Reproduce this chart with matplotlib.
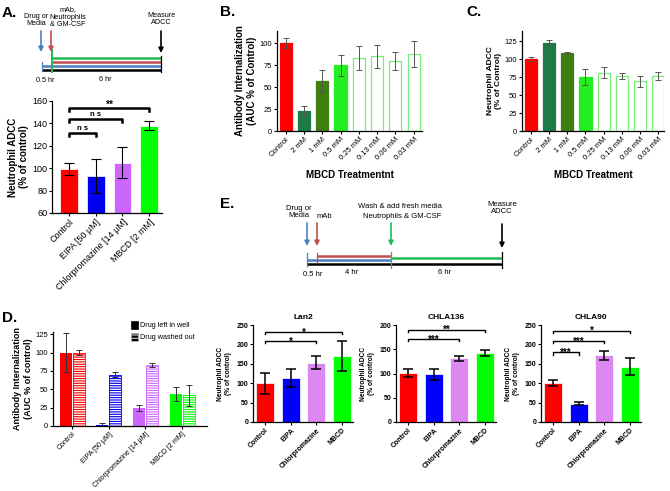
import numpy as np
import matplotlib
matplotlib.use('Agg')
import matplotlib.pyplot as plt
from matplotlib.patches import Patch

plt.rcParams['font.family'] = ['Liberation Sans', 'DejaVu Sans']
plt.rcParams['hatch.linewidth'] = 0.9
plt.rcParams['axes.linewidth'] = 0.9

RED = '#ff0000'
BLUE = '#0000ee'
PURPLE = '#cc66ff'
LAVENDER = '#dd88f2'
LIME = '#00ff00'

# ---- data ----
# A: neutrophil ADCC after drug pre-treatment
a_labels = ['Control', 'EIPA [50 µM]', 'Chlorpromazine [14 µM]', 'MBCD [2 mM]']
a_mean = [99, 93, 105, 138]
a_err = [5.5, 15.5, 13.5, 4]
a_sig = [(0, 1, 131.5, 'n s'), (0, 2, 144, 'n s'), (0, 3, 153.5, '**')]

# B: antibody internalization vs MBCD dose
mbcd_labels = ['Control', '2 mM', '1 mM', '0.5 mM', '0.25 mM', '0.13 mM', '0.06 mM', '0.03 mM']
b_mean = [100, 23, 57, 75, 83, 85, 80, 88]
b_err = [5.5, 5.5, 13, 12, 14, 13.5, 10.5, 15]

# C: neutrophil ADCC vs MBCD dose
c_mean = [100, 123, 108, 75, 81, 76, 69, 77]
c_err = [3, 4, 1.2, 11, 8, 4, 8, 5.5]

mbcd_face = [RED, '#1e7b45', '#3f7f10', '#22ee22', 'white', 'white', 'white', 'white']
mbcd_edge = [RED, '#1e7b45', '#3f7f10', '#22ee22', '#77ee77', '#77ee77', '#77ee77', '#77ee77']

# D: internalization, drug left in well vs washed out
d_left = [100, 2, 24, 44]
d_left_err = [26, 2, 4, 9.5]
d_washed = [100, 70, 83, 42]
d_washed_err = [3, 3.5, 3, 14.5]

# E: ADCC after wash-out, three cell lines
e_labels = ['Control', 'EIPA', 'Chlorpromazine', 'MBCD']
lan2_mean = [100, 113, 153, 170]
lan2_err = [27, 24, 16, 39]
lan2_sig = [(0, 2, 209, '*'), (0, 3, 232, '*')]
chla136_mean = [101, 98, 131, 143]
chla136_err = [8.5, 12, 6, 6]
chla136_sig = [(0, 2, 171, '***'), (0, 3, 190, '**')]
chla90_mean = [101, 47, 172, 142]
chla90_err = [7, 4, 11, 22]
chla90_sig = [(0, 1, 180, '***'), (0, 2, 209, '***'), (0, 3, 235, '*')]

four_colors = [RED, BLUE, PURPLE, LIME]
e_colors = [RED, '#0000ff', LAVENDER, LIME]

W, H = 670, 491
fig = plt.figure(figsize=(W / 100, H / 100), dpi=100)


def px_axes(x0, y0, x1, y1):
    # axes from pixel box (top-left origin)
    return fig.add_axes([x0 / W, 1 - y1 / H, (x1 - x0) / W, (y1 - y0) / H])


def style(ax, fs):
    ax.spines['top'].set_visible(False)
    ax.spines['right'].set_visible(False)
    ax.tick_params(labelsize=fs, length=2.5, width=0.8, pad=1)


def bracket(ax, x1, x2, y, text, leg, lw, fs):
    ax.plot([x1, x1, x2, x2], [y - leg, y, y, y - leg], color='black', lw=lw,
            clip_on=False, solid_capstyle='butt')
    ax.text((x1 + x2) / 2, y, text, ha='center', va='center', fontsize=fs,
            fontweight='bold')


# ---- A bars ----
ax = px_axes(52, 101, 162, 213)
x = np.arange(len(a_mean))
ax.bar(x, a_mean, width=0.67, color=four_colors, edgecolor='white', linewidth=0.5)
ax.errorbar(x, a_mean, yerr=a_err, fmt='none', ecolor='black', capsize=3.5,
            elinewidth=0.8, capthick=0.8)
ax.set_ylim(60, 160)
ax.set_yticks(range(60, 161, 20))
ax.set_xlim(-0.64, 3.48)
ax.set_xticks(x)
ax.set_xticklabels(a_labels, rotation=45, ha='right', rotation_mode='anchor')
style(ax, 6.5)
ax.tick_params(axis='x', labelsize=6.5)
ax.set_ylabel('Neutrophil ADCC\n(% of control)', fontsize=7, fontweight='bold',
              labelpad=2)
for i1, i2, yv, t in a_sig:
    fs = 7.5 if '*' in t else 5.5
    bracket(ax, i1, i2, yv + 3.5, t, 0, 0, fs)
    ax.plot([i1, i1, i2, i2], [yv - 2.8, yv, yv, yv - 2.8], color='black',
            lw=1.8, clip_on=False)

# ---- B ----
ax = px_axes(277, 31, 422, 131)
x = np.arange(len(b_mean))
ax.bar(x, b_mean, width=0.66, color=mbcd_face, edgecolor=mbcd_edge, linewidth=0.9)
ax.errorbar(x, b_mean, yerr=b_err, fmt='none', ecolor='#555555', capsize=2.5,
            elinewidth=0.7, capthick=0.7)
ax.set_ylim(0, 114)
ax.set_yticks([0, 25, 50, 75, 100])
ax.set_xlim(-0.47, 7.45)
ax.set_xticks(x)
ax.set_xticklabels(mbcd_labels, rotation=45, ha='right', rotation_mode='anchor')
style(ax, 5.5)
ax.set_ylabel('Antibody Internalization\n(AUC % of Control)', fontsize=7,
              fontweight='bold', labelpad=2)
ax.set_xlabel('MBCD Treatmentnt', fontsize=7, fontweight='bold', labelpad=6)

# ---- C ----
ax = px_axes(522, 31, 664, 131)
ax.bar(x, c_mean, width=0.67, color=mbcd_face, edgecolor=mbcd_edge, linewidth=0.9)
ax.errorbar(x, c_mean, yerr=c_err, fmt='none', ecolor='#555555', capsize=2.5,
            elinewidth=0.7, capthick=0.7)
ax.set_ylim(0, 139)
ax.set_yticks([0, 25, 50, 75, 100, 125])
ax.set_xlim(-0.5, 7.33)
ax.set_xticks(x)
ax.set_xticklabels(mbcd_labels, rotation=45, ha='right', rotation_mode='anchor')
style(ax, 5.5)
ax.set_ylabel('Neutrophil ADCC\n(% of Control)', fontsize=6, fontweight='bold',
              labelpad=2)
ax.set_xlabel('MBCD Treatment', fontsize=7, fontweight='bold', labelpad=6)

# ---- D ----
ax = px_axes(53, 332, 207, 426)
g = np.arange(len(d_left))
off = 0.177
bw = 0.33
ax.bar(g - off, d_left, width=bw, color=four_colors, linewidth=0)
ax.bar(g + off, d_washed, width=bw, color=four_colors, edgecolor='white',
       hatch='-------', linewidth=0)
ax.bar(g + off, d_washed, width=bw, fill=False, edgecolor=four_colors, linewidth=0.6)
ax.errorbar(g - off, d_left, yerr=d_left_err, fmt='none', ecolor='#333333',
            capsize=2.5, elinewidth=0.7, capthick=0.7)
ax.errorbar(g + off, d_washed, yerr=d_washed_err, fmt='none', ecolor='#333333',
            capsize=2.5, elinewidth=0.7, capthick=0.7)
ax.set_ylim(0, 128)
ax.set_yticks([0, 25, 50, 75, 100, 125])
ax.set_xlim(-0.52, 3.68)
ax.set_xticks(g)
ax.set_xticklabels(a_labels, rotation=45, ha='right', rotation_mode='anchor')
style(ax, 5.5)
ax.tick_params(axis='x', labelsize=5)
ax.set_ylabel('Antibody Internalization\n(AUC % of control)', fontsize=6.5,
              fontweight='bold', labelpad=2)
handles = [Patch(facecolor='black', edgecolor='black', linewidth=0.5),
           Patch(facecolor='black', edgecolor='#bbbbbb', hatch='-----', linewidth=0.5)]
ax.legend(handles, ['Drug left in well', 'Drug washed out'], loc='upper left',
          bbox_to_anchor=(128 / W, 1 - 318 / H), bbox_transform=fig.transFigure,
          frameon=False, fontsize=5.2, handlelength=1.0, handleheight=1.3,
          handletextpad=0.3, labelspacing=0.5, borderaxespad=0)

# ---- E bar charts ----
e_sets = [
    ('Lan2', lan2_mean, lan2_err, lan2_sig, 250, 253),
    ('CHLA136', chla136_mean, chla136_err, chla136_sig, 200, 396),
    ('CHLA90', chla90_mean, chla90_err, chla90_sig, 250, 541),
]
for title, mean, err, sig, ymax, x0 in e_sets:
    ax = px_axes(x0, 325, x0 + 100, 422)
    xe = np.arange(len(mean))
    ax.bar(xe, mean, width=0.7, color=e_colors, edgecolor='white', linewidth=0.5)
    ax.errorbar(xe, mean, yerr=err, fmt='none', ecolor='black', capsize=3.5,
                elinewidth=1.1, capthick=1.1)
    ax.set_ylim(0, ymax)
    ax.set_yticks(range(0, ymax + 1, 50))
    ax.set_xlim(-0.47, 3.42)
    ax.set_xticks(xe)
    ax.set_xticklabels(e_labels, rotation=45, ha='right', rotation_mode='anchor',
                       fontweight='bold')
    style(ax, 5)
    for lab in ax.get_yticklabels():
        lab.set_fontweight('bold')
    ax.set_ylabel('Neutrophil ADCC\n(% of control)', fontsize=4.8,
                  fontweight='bold', labelpad=3)
    ax.set_title(title, fontsize=6, fontweight='bold', pad=4)
    for i1, i2, yv, t in sig:
        leg = ymax * 0.025
        ax.plot([i1, i1, i2, i2], [yv - leg, yv, yv, yv - leg], color='black',
                lw=1.0, clip_on=False)
        ax.text((i1 + i2) / 2, yv - ymax * 0.005, t, ha='center', va='center',
                fontsize=7, fontweight='bold')

# ---- overlay: timelines & panel letters ----
ov = fig.add_axes([0, 0, 1, 1], zorder=10)
ov.set_xlim(0, W)
ov.set_ylim(H, 0)
ov.axis('off')
ov.patch.set_alpha(0)

TBLUE = '#4a7fc1'
TRED = '#c0504d'
TGREEN = '#22bb55'


def arrow(xp, y0, y1, c):
    ov.annotate('', xy=(xp, y1), xytext=(xp, y0),
                arrowprops=dict(arrowstyle='-|>', color=c, lw=1.2,
                                mutation_scale=7, shrinkA=0, shrinkB=0))


def hline(x0, x1, y, c, lw=1.8):
    ov.plot([x0, x1], [y, y], color=c, lw=lw, solid_capstyle='butt')


def vline(xp, y0, y1, c, lw=0.9):
    ov.plot([xp, xp], [y0, y1], color=c, lw=lw)


for lab, xp, yp in [('A.', 2, 13), ('B.', 220, 12), ('C.', 466, 12),
                    ('D.', 2, 318), ('E.', 220, 204)]:
    ov.text(xp, yp, lab, fontsize=11, fontweight='bold', va='center', ha='left')

# A timeline
tf = 5.2
ov.text(36, 20, 'Drug or\nMedia', fontsize=tf, ha='center', va='center',
        linespacing=1.0)
ov.text(68, 17, 'mAb,\nNeutrophils\n& GM-CSF', fontsize=tf, ha='center',
        va='center', linespacing=1.0)
ov.text(161, 19, 'Measure\nADCC', fontsize=tf, ha='center', va='center',
        linespacing=1.0)
arrow(41, 31, 52, TBLUE)
arrow(51, 31, 52, TRED)
arrow(161, 31, 53, 'black')
hline(52, 161, 58, TGREEN)
hline(52, 161, 62, TRED)
hline(42, 161, 66, TBLUE)
hline(42, 161, 70, 'black')
vline(42, 62, 71, TBLUE)
vline(52, 50, 72, TGREEN, 1.4)
vline(161, 56, 72, 'black')
ov.text(45, 80, '0.5 hr', fontsize=tf, ha='center', va='center')
ov.text(105, 79, '6 hr', fontsize=tf, ha='center', va='center')

# E timeline
tf = 5.5
ov.text(299, 212, 'Drug or\nMedia', fontsize=tf, ha='center', va='center',
        linespacing=1.1)
ov.text(324, 217, 'mAb', fontsize=tf, ha='center', va='center')
ov.text(400, 206, 'Wash & add fresh media', fontsize=tf, ha='center', va='center')
ov.text(402, 217, 'Neutrophils & GM-CSF', fontsize=tf, ha='center', va='center')
ov.text(502, 208, 'Measure\nADCC', fontsize=tf, ha='center', va='center',
        linespacing=1.1)
arrow(307, 223, 246, TBLUE)
arrow(317, 223, 246, TRED)
arrow(391, 223, 246, TGREEN)
arrow(502, 224, 248, 'black')
hline(317, 391, 256, TRED)
hline(307, 391, 260, TBLUE)
hline(391, 502, 258, TGREEN)
hline(307, 502, 264, 'black')
vline(307, 253, 266, TBLUE)
vline(317, 253, 262, TRED)
vline(391, 252, 268, TGREEN)
vline(502, 252, 268, 'black')
ov.text(313, 275, '0.5 hr', fontsize=tf, ha='center', va='center')
ov.text(352, 273, '4 hr', fontsize=tf, ha='center', va='center')
ov.text(445, 273, '6 hr', fontsize=tf, ha='center', va='center')

fig.savefig('out.png', dpi=100)
